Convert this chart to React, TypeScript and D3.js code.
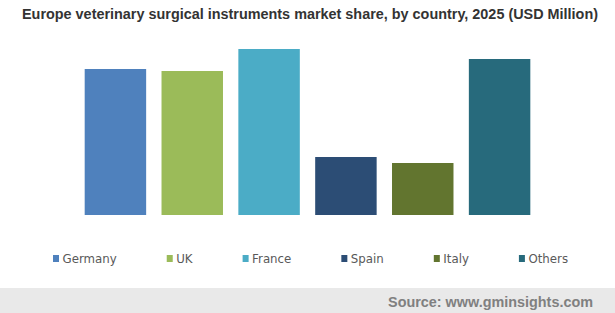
import React, { useEffect, useRef } from "react";
import * as d3 from "d3";

const categories = ["Germany", "UK", "France", "Spain", "Italy", "Others"];
const values = [146, 144, 166, 58, 52, 156];
const colors = ["#4f81bd", "#9bbb59", "#4bacc6", "#2c4d75", "#62752f", "#276a7c"];
const title = "Europe veterinary surgical instruments market share, by country, 2025 (USD Million)";
const source = "Source: www.gminsights.com";

const W = 615;
const H = 313;

export default function App() {
  const ref = useRef<SVGSVGElement | null>(null);

  useEffect(() => {
    const svg = d3.select(ref.current);
    svg.selectAll("*").remove();

    svg.append("rect").attr("width", W).attr("height", H).attr("fill", "#ffffff");

    svg
      .append("text")
      .attr("x", 22)
      .attr("y", 19)
      .attr("font-family", "'Liberation Sans', Arial, sans-serif")
      .attr("font-weight", "bold")
      .attr("font-size", 14)
      .attr("textLength", 576)
      .attr("lengthAdjust", "spacingAndGlyphs")
      .attr("fill", "#333333")
      .text(title);

    const x = d3
      .scaleBand<string>()
      .domain(categories)
      .range([77, 538])
      .paddingInner(0.2)
      .paddingOuter(0.1);

    const y = d3.scaleLinear().domain([0, 166]).range([215, 49]);

    svg
      .append("g")
      .selectAll("rect")
      .data(categories)
      .join("rect")
      .attr("x", (d) => x(d)!)
      .attr("width", x.bandwidth())
      .attr("y", (_d, i) => y(values[i]))
      .attr("height", (_d, i) => y(0) - y(values[i]))
      .attr("fill", (_d, i) => colors[i]);

    // legend
    const lg = svg.append("g");
    let cx = 53;
    categories.forEach((c, i) => {
      lg.append("rect")
        .attr("x", cx)
        .attr("y", 255)
        .attr("width", 6)
        .attr("height", 7)
        .attr("fill", colors[i]);
      const t = lg
        .append("text")
        .attr("x", cx + 9.5)
        .attr("y", 262.5)
        .attr("font-family", "'DejaVu Sans', Verdana, sans-serif")
        .attr("font-size", 11.8)
        .attr("fill", "#595959")
        .text(c);
      const w = (t.node() as SVGTextElement).getComputedTextLength();
      cx = cx + 9.5 + w + 50;
    });

    // footer
    svg.append("rect").attr("x", 0).attr("y", 288).attr("width", W).attr("height", H - 288).attr("fill", "#e9e9e9");
    svg
      .append("text")
      .attr("x", 593)
      .attr("y", 306.5)
      .attr("text-anchor", "end")
      .attr("font-family", "'Liberation Sans', Arial, sans-serif")
      .attr("font-weight", "bold")
      .attr("font-size", 14.4)
      .attr("fill", "#808080")
      .text(source);
  }, []);

  return (
    <svg
      ref={ref}
      width={W}
      height={H}
      style={{ position: "absolute", left: 0, top: 0, display: "block" }}
    />
  );
}
